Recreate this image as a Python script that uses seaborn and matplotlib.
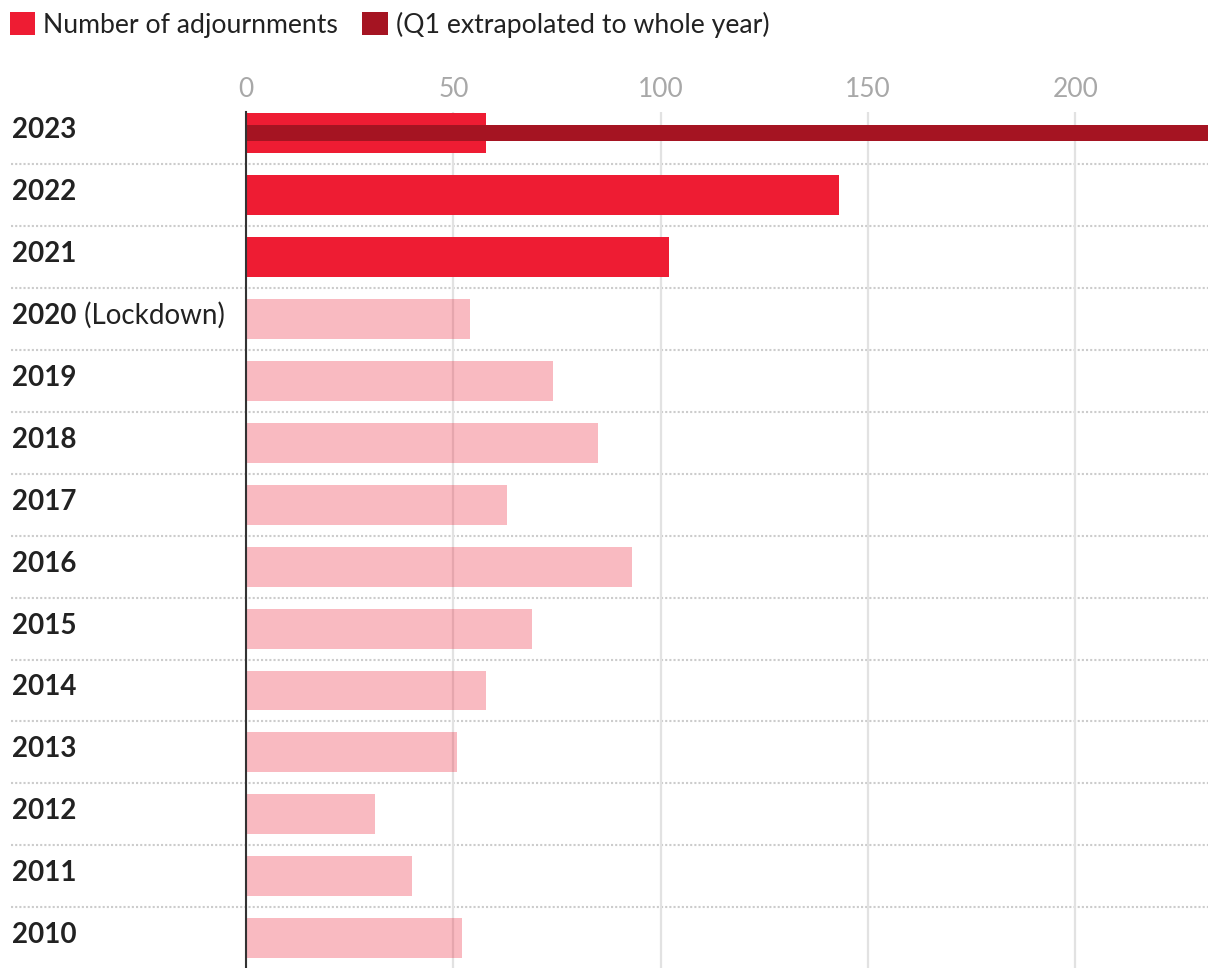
import matplotlib
matplotlib.use("Agg")
import matplotlib.pyplot as plt
import matplotlib.transforms as mtransforms
from matplotlib.patches import Patch
import seaborn as sns
import pandas as pd

years = ["2023", "2022", "2021", "2020", "2019", "2018", "2017", "2016",
         "2015", "2014", "2013", "2012", "2011", "2010"]
adjournments = [58, 143, 102, 54, 74, 85, 63, 93, 69, 58, 51, 31, 40, 52]
period = ["recent", "recent", "recent", "older", "older", "older", "older", "older",
          "older", "older", "older", "older", "older", "older"]
label_notes = ["", "", "", " (Lockdown)", "", "", "", "", "", "", "", "", "", ""]
extrap_year = ["2023"]
extrap_value = [232]
legend_labels = ["Number of adjournments", "(Q1 extrapolated to whole year)"]
x_ticks = [0, 50, 100, 150, 200]

RED = "#ee1c33"
DARK = "#a51422"

sns.set_theme(style="white")
plt.rcParams["font.family"] = ["Lato", "DejaVu Sans"]

W, H = 1220, 968
fig = plt.figure(figsize=(W / 100, H / 100), dpi=100)
ax_left, ax_right, ax_top, ax_bottom = 246, 1208, 112, 968
ax = fig.add_axes([ax_left / W, 1 - ax_bottom / H, (ax_right - ax_left) / W,
                   (ax_bottom - ax_top) / H])

df = pd.DataFrame({"year": years, "value": adjournments, "period": period})
sns.barplot(data=df, y="year", x="value", hue="period", order=years,
            palette={"recent": RED, "older": RED}, dodge=False, width=0.645,
            saturation=1, orient="h", ax=ax, legend=False, zorder=2)
for patch in list(ax.patches):
    yc = patch.get_y() + patch.get_height() / 2
    idx = int(round(yc))
    if 0 <= idx < len(period) and period[idx] == "older":
        patch.set_alpha(0.3)
    patch.set_linewidth(0)

dfe = pd.DataFrame({"year": extrap_year, "value": extrap_value})
sns.barplot(data=dfe, y="year", x="value", order=years, color=DARK, width=0.26,
            saturation=1, orient="h", ax=ax, zorder=3, linewidth=0)

n = len(years)
ax.set_xlim(0, extrap_value[0])
ax.set_ylim(n - 1 + 0.48, -0.34)
ax.set_xticks(x_ticks)
ax.xaxis.tick_top()
ax.tick_params(axis="x", length=0, pad=7, labelsize=19, labelcolor="#a8a8a8")
ax.set_yticks([])
ax.set_xlabel("")
ax.set_ylabel("")
ax.grid(axis="x", color="#e2e2e2", linewidth=1.6, zorder=1)
ax.set_axisbelow(True)
for s in ["top", "right", "bottom"]:
    ax.spines[s].set_visible(False)
ax.spines["left"].set_color("#333333")
ax.spines["left"].set_linewidth(1.5)
ax.spines["left"].set_zorder(5)

# row separators (dotted)
trans = ax.get_yaxis_transform()
x0 = -(ax_left - 11) / (ax_right - ax_left)
for i in range(n - 1):
    ax.plot([x0, 1], [i + 0.5, i + 0.5], transform=trans, color="#cccccc",
            linestyle=(0, (1, 1)), linewidth=1.5, clip_on=False, zorder=0)

# row labels
fig.canvas.draw()
renderer = fig.canvas.get_renderer()
note_trans = mtransforms.blended_transform_factory(fig.transFigure, ax.transData)
for i, (yr, note) in enumerate(zip(years, label_notes)):
    ybase = i + 0.08
    t = ax.text(-(ax_left - 12) / (ax_right - ax_left), ybase, yr, transform=trans,
                fontsize=20, fontweight="bold", color="#222222", va="baseline",
                ha="left")
    if note:
        bb = t.get_window_extent(renderer=renderer)
        xf = bb.x1 / W
        fig.text(xf, ybase, note, fontsize=20, color="#222222", va="baseline",
                 ha="left", transform=note_trans)

handles = [Patch(facecolor=RED, edgecolor="none"), Patch(facecolor=DARK, edgecolor="none")]
fig.legend(handles, legend_labels, loc="upper left", bbox_to_anchor=(10 / W, 1 - 12 / H),
           ncol=2, frameon=False, fontsize=19.2, handlelength=0.95, handleheight=0.95,
           handletextpad=0.3, columnspacing=0.9, borderaxespad=0, borderpad=0,
           labelcolor="#222222")

fig.savefig("out.png", dpi=100)
